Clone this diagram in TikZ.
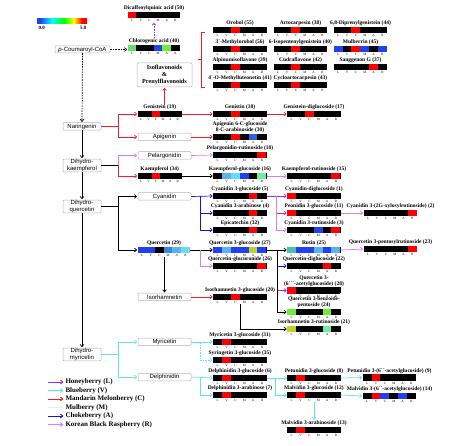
\documentclass[tikz,border=0pt]{standalone}
\usepackage{fontspec}
\setmainfont{Liberation Serif}
\setsansfont{Liberation Sans}
\usetikzlibrary{positioning,arrows.meta,calc}

\definecolor{hk}{HTML}{000000}
\definecolor{hr}{HTML}{FF0000}
\definecolor{hb}{HTML}{2240F0}
\definecolor{hmb}{HTML}{3060E0}
\definecolor{hsb}{HTML}{3A86DA}
\definecolor{hlb}{HTML}{5AB2EE}
\definecolor{hcy}{HTML}{6ADCF0}
\definecolor{hlg}{HTML}{66E066}
\definecolor{hg}{HTML}{6CEE36}
\definecolor{hyg}{HTML}{BCD22A}
\definecolor{hmg}{HTML}{6EEEA0}
\definecolor{ht}{HTML}{4CC0B0}
\definecolor{honeyc}{HTML}{9A32E6}
\definecolor{bluebc}{HTML}{62E2F0}
\definecolor{mandc}{HTML}{F21C2D}
\definecolor{mulbc}{HTML}{EAEAFF}
\definecolor{chokec}{HTML}{1414D2}
\definecolor{koreac}{HTML}{E07BEE}

\pgfdeclarehorizontalshading{heat}{100bp}{color(0bp)=(hb); color(28bp)=(hb); color(40bp)=(cyan); color(52bp)=(green); color(62bp)=(yellow); color(70bp)=(red); color(100bp)=(red)}

\newcommand{\heatbar}[5][53]{%
  \node[hbar,minimum width=#1pt] (#2) at #3 {};
  \pgfmathsetmacro\cw{#1/6}
  \foreach \cc [count=\i from 0] in {#5}
    \fill[\cc] ([xshift={\i*\cw}]#2.south west) rectangle ([xshift={(\i+1)*\cw}]#2.north west);
  \foreach \ll [count=\i from 0] in {L,V,C,M,A,R}
    \node[lvc] (#2-\ll) at ([xshift={(\i+0.5)*\cw},yshift=-2.6pt]#2.south west) {\ll};
  \node[cmpd,above=0.3pt of #2] (#2-t) {#4};
}

\begin{document}
\begin{tikzpicture}[x=1pt,y=-1pt,>={Straight Barb[length=2.2pt,width=3.8pt]},
  box/.style={draw=gray!60,rounded corners=1pt,line width=0.5pt,inner sep=0.4pt,align=center,
    font=\sffamily\fontsize{6}{6.6}\selectfont,minimum width=53pt,minimum height=7.5pt},
  lbox/.style={box,minimum width=38pt},
  hbar/.style={fill=black,minimum height=6pt,inner sep=0pt},
  cmpd/.style={font=\bfseries\fontsize{5.5}{5.9}\selectfont,inner sep=0.3pt,align=center},
  lvc/.style={font=\fontsize{3.3}{3.5}\selectfont,inner sep=0pt},
  legtxt/.style={font=\bfseries\fontsize{7}{7.5}\selectfont,inner sep=0.3pt,anchor=west},
  cbl/.style={font=\bfseries\fontsize{5}{5.5}\selectfont,inner sep=0pt},
  link/.style={line width=0.7pt,shorten >=0.6pt,->},
  blk/.style={link,draw=black},
  hon/.style={link,draw=honeyc},
  blu/.style={link,draw=bluebc},
  man/.style={link,draw=mandc},
  mlb/.style={link,draw=mulbc},
  cho/.style={link,draw=chokec},
  kor/.style={link,draw=koreac},
  dsh/.style={dash pattern=on 1.6pt off 1pt}]
  \useasboundingbox (0,0) rectangle (474,446);

  \node[shade,shading=heat,minimum width=50pt,minimum height=4.5pt,inner sep=0pt] (cbar) at (62,21) {};
  \node[cbl] (cb0) at ([xshift=5pt,yshift=-4pt]cbar.south west) {0.0};
  \node[cbl] (cb5) at ([xshift=-4pt,yshift=-4pt]cbar.south east) {5.0};

  \node[box,minimum width=55pt,minimum height=7pt] (pcoa) at (82.5,49.5) {\textit{p}-Coumaroyl-CoA};
  \node[lbox] (nar) at (82,126.5) {Naringenin};
  \node[lbox] (dhk) at (82,165.5) {Dihydro-\\kaempferol};
  \node[lbox] (dhq) at (82,206.5) {Dihydro-\\quercetin};
  \node[lbox] (dhm) at (82,354.5) {Dihydro-\\myricetin};
  \node[box,font=\bfseries\fontsize{6.2}{7.2}\selectfont,minimum width=55pt,minimum height=24pt] (iso) at (164.5,75) {Isoflavonoids\\\&\\Prenylflavonoids};
  \node[box] (apg) at (164.5,137) {Apigenin};
  \node[box] (pel) at (164.5,155.5) {Pelargonidin};
  \node[box] (cya) at (164.5,196.5) {Cyanidin};
  \node[box] (isr) at (164.5,297) {Isorhamnetin};
  \node[box] (myr) at (164.5,342) {Myricetin};
  \node[box] (del) at (164.5,377) {Delphinidin};

  \heatbar[52]{dcq}{(154,15)}{Dicaffeoylquinic acid (50)}{hr,hk,hk,hk,hk,hk}
  \heatbar[52]{chl}{(154,48)}{Chlorogenic acid (40)}{hlg,hk,hk,hb,hg,hk}
  \heatbar{oro}{(240,30)}{Orobol (55)}{hk,hk,hr,hk,hk,hk}
  \heatbar{mor}{(240,49)}{3´-Methylorobol (56)}{hk,hk,hr,hk,hk,hk}
  \heatbar{alp}{(240,67)}{Alpinumisoflavone (39)}{hk,hk,hr,hk,hk,hk}
  \heatbar{mlt}{(240,85)}{4´-O-Methylluteonetin (41)}{hk,hk,hr,hk,hk,hk}
  \heatbar{art}{(300.5,30)}{Artocarpesin (38)}{hk,hk,hr,hk,hk,hk}
  \heatbar{ipg}{(300.5,49)}{6-Isopentenylgenistein (40)}{hk,hk,hr,hk,hk,hk}
  \heatbar{cud}{(300.5,67)}{Cudraflavone (42)}{hk,hk,hr,hk,hk,hk}
  \heatbar{cyc}{(300.5,85)}{Cycloartocarpesin (43)}{hk,hk,hr,hk,hk,hk}
  \heatbar{dpg}{(360.5,30)}{6,8-Diprenylgenistein (44)}{hk,hk,hr,hk,hk,hk}
  \heatbar{mul}{(360.5,49)}{Mulberrin (45)}{hb,hk,hr,hb,hk,hb}
  \heatbar{sgg}{(360.5,67)}{Sanggenon G (37)}{hk,hk,hk,hk,hr,hk}
  \heatbar[43.5]{gen}{(159.75,114)}{Genistein (19)}{hk,hk,hr,hk,hk,hk}
  \heatbar{gtn}{(240,114)}{Genistin (18)}{hk,hk,hr,hk,hk,hk}
  \heatbar{gdg}{(314,114)}{Genistein-diglucoside (17)}{hk,hk,hr,hk,hk,hk}
  \heatbar{api}{(240,137)}{Apigenin 6-C-glucoside\\8-C-arabinoside (30)}{hk,hk,hr,hk,hmb,hk}
  \heatbar{pru}{(240,155)}{Pelargonidin-rutinoside (10)}{hk,hk,hk,hk,hk,hr}
  \heatbar[43.5]{kae}{(159.75,176)}{Kaempferol (34)}{hk,hk,hr,hk,hk,hk}
  \heatbar{kgl}{(240,176)}{Kaempferol-glucoside (16)}{hk,hlb,hcy,hb,hk,hmg}
  \heatbar{kru}{(314,176)}{Kaempferol-rutinoside (15)}{hk,hk,hk,hk,hk,hr}
  \heatbar{cg5}{(240,196)}{Cyanidin 3-glucoside (5)}{hk,hk,hk,hk,hr,hk}
  \heatbar{ca4}{(240,213)}{Cyanidin 3-arabinose (4)}{hk,hk,hk,hk,hr,hk}
  \heatbar{epi}{(240,230)}{Epicatechin (32)}{hk,hk,hk,hk,hr,hk}
  \heatbar{cdg}{(314,196)}{Cyanidin-diglucoside (1)}{hr,hk,hk,hk,hk,hk}
  \heatbar{peo}{(314,213)}{Peonidin 3-glucoside (11)}{hr,hk,hk,hk,hk,hk}
  \heatbar{cxr}{(390.5,213)}{Cyanidin 3-(2G-xylosylrutinoside) (2)}{hk,hk,hk,hk,hk,hr}
  \heatbar{c3r}{(314,230)}{Cyanidin 3-rutinoside (3)}{hk,hk,hk,hb,hk,hr}
  \heatbar[52]{que}{(164,250)}{Quercetin (29)}{hb,hb,hk,hsb,hlb,hcy}
  \heatbar{q3g}{(240,250)}{Quercetin 3-glucoside (27)}{hb,hlb,hb,hb,hyg,hb}
  \heatbar{qgu}{(240,266)}{Quercetin-glucuronide (26)}{hk,hk,hk,hk,hk,hr}
  \heatbar{rut}{(314,250)}{Rutin (25)}{ht,hb,hb,hlb,hb,hlb}
  \heatbar{qpr}{(390.5,249)}{Quercetin 3-pentosylrutinoside (23)}{hk,hk,hk,hk,hk,hr}
  \heatbar{qdg}{(314,266)}{Quercetin-diglucoside (22)}{hk,hk,hk,hk,hr,hk}
  \heatbar{qac}{(314,290.5)}{Quercetin 3-\\(6´´´-acetylglucoside) (28)}{hr,hk,hk,hk,hk,hk}
  \heatbar{qbp}{(314,312)}{Quercetin 3-benzoide-\\pentoside (24)}{hg,hk,hk,hk,hg,hk}
  \heatbar{i3g}{(240,297)}{Isorhamnetin 3-glucoside (20)}{hk,hk,hr,hk,hk,hk}
  \heatbar{i3r}{(314,329)}{Isorhamnetin 3-rutinoside (21)}{hyg,hk,hk,hk,hmg,hk}
  \heatbar{m3g}{(240,342)}{Myricetin 3-glucoside (31)}{hk,hr,hk,hk,hk,hk}
  \heatbar{s3g}{(240,360)}{Syringetin 3-glucoside (35)}{hk,hr,hk,hk,hk,hk}
  \heatbar{d3g}{(240,378)}{Delphinidin 3-glucoside (6)}{hk,hr,hk,hk,hk,hk}
  \heatbar{d3a}{(240,395)}{Delphinidin 3-arabinose (7)}{hk,hr,hk,hk,hk,hk}
  \heatbar{p3g}{(314,378)}{Petunidin 3-glucoside (8)}{hk,hr,hk,hk,hk,hk}
  \heatbar{mv3g}{(314,395)}{Malvidin 3-glucoside (12)}{hk,hr,hk,hk,hk,hk}
  \heatbar{mv3a}{(314,430)}{Malvidin 3-arabinoside (13)}{hk,hr,hk,hk,hk,hk}
  \heatbar{p6a}{(389.5,377.5)}{Petunidin 3-(6´´-acetylglucoside) (9)}{hk,hr,hk,hk,hk,hk}
  \heatbar{m6a}{(389.5,396)}{Malvidin 3-(6´´-acetylglucoside) (14)}{hk,hr,hb,hk,hb,hk}

  \draw[blk,dsh] (pcoa.east) -- (pcoa.east -| chl.west);
  \draw[blk,dsh] (pcoa.south) -- (nar.north);
  \draw[blk] (nar.south) -- (dhk.north);
  \draw[blk] (dhk.south) -- (dhq.north);
  \draw[blk] (dhq.south) -- (dhm.north);
  \draw[hon,dsh] (chl-t.north) -- (chl-t.north |- dcq-L.south);

  \coordinate (nj) at ($(nar.east)+(17,0)$);
  \draw[man,-] (nar.east) -- (nj);
  \draw[man] (nj) |- (gen.west);
  \draw[man] (nj) |- (apg.west);
  \draw[man] (gen.east) -- (gtn.west);
  \draw[man] (gtn.east) -- (gdg.west);
  \draw[man] (iso.south |- gen-t.north) -- (iso.south);
  \draw[man,-] (205,32) -- (201,32) -- (201,87) -- (205,87) (201,59.5) -- (197.5,59.5);
  \draw[man] (apg.east) -- (api.west);

  \coordinate (kj) at ($(dhk.east)+(17,0)$);
  \draw[blk,-] (dhk.east) -- (kj);
  \draw[kor] (kj) |- (pel.west);
  \draw[man] (kj) |- (kae.west);
  \draw[kor] (pel.east) -- (pru.west);
  \draw[blk] (kae.east) -- (kgl.west);
  \draw[kor] (kgl.east) -- (kru.west);

  \coordinate (qj) at ($(dhq.east)+(17,0)$);
  \draw[blk,-] (dhq.east) -- (qj);
  \draw[blk] (qj) |- (cya.west);
  \draw[blk] (qj) |- (que.west);

  \coordinate (cj) at ($(cya.east)!0.4!(cg5.west)$);
  \draw[cho] (cya.east) -- (cg5.west);
  \draw[cho] (cj) |- (ca4.west);
  \draw[cho] (cj) |- (epi.west);
  \coordinate (cgj) at ($(cg5.east)!0.45!(cdg.west)$);
  \draw[hon] (cg5.east) -- (cdg.west);
  \draw[hon] (cgj) |- (peo.west);
  \draw[kor] (cgj) |- (c3r.west);
  \draw[kor] (peo.east) -- (cxr.west);

  \coordinate (qqj) at ($(que.east)!0.45!(q3g.west)$);
  \draw[blk] (que.east) -- (q3g.west);
  \draw[kor] (qqj) |- (qgu.west);
  \coordinate (q3j) at ($(q3g.east)!0.5!(rut.west)$);
  \draw[blk] (q3g.east) -- (rut.west);
  \draw[cho] (q3j) |- (qdg.west);
  \draw[hon] (q3j) |- (qac.west);
  \draw[blk] (q3j) |- (qbp.west);
  \draw[kor] (rut.east) -- (qpr.west);
  \draw[blk] (que-C.south -| isr.north) -- (isr.north);
  \draw[man] (isr.east) -- (i3g.west);
  \draw[blk] ([yshift=-4pt]i3g.south) |- (i3r.west);

  \coordinate (mj) at ($(dhm.east)+(17,0)$);
  \draw[blu,-] (dhm.east) -- (mj);
  \draw[blu] (mj) |- (myr.west);
  \draw[blu] (mj) |- (del.west);
  \coordinate (myj) at ($(myr.east)!0.4!(m3g.west)$);
  \draw[blu] (myr.east) -- (m3g.west);
  \draw[blu,dsh] (myj) |- (s3g.west);
  \coordinate (dj) at ($(del.east)!0.4!(d3g.west)$);
  \draw[blu] (del.east) -- (d3g.west);
  \draw[blu] (dj) |- (d3a.west);
  \coordinate (dgj) at ($(d3g.east)!0.4!(p3g.west)$);
  \draw[blu] (d3g.east) -- (p3g.west);
  \draw[blu] (dgj) |- (mv3g.west);
  \draw[blu] (p3g.east) -- (p6a.west);
  \draw[blu] (mv3g.east) -- (m6a.west);
  \draw[blu] (mv3g-A.south -| mv3a-t.north) -- (mv3a-t.north);

  \node[legtxt] (lg1) at (65,382) {Honeyberry (L)};
  \node[legtxt] (lg2) at (65,390.5) {Blueberry (V)};
  \node[legtxt] (lg3) at (65,399) {Mandarin Melonberry (C)};
  \node[legtxt] (lg4) at (65,407.5) {Mulberry (M)};
  \node[legtxt] (lg5) at (65,416) {Chokeberry (A)};
  \node[legtxt] (lg6) at (65,424.5) {Korean Black Raspberry (R)};
  \foreach \n/\s in {1/hon,2/blu,3/man,4/mlb,5/cho,6/kor}
    \draw[\s,line width=1pt] ([xshift=-17pt]lg\n.west) -- ([xshift=-1pt]lg\n.west);
\end{tikzpicture}
\end{document}
